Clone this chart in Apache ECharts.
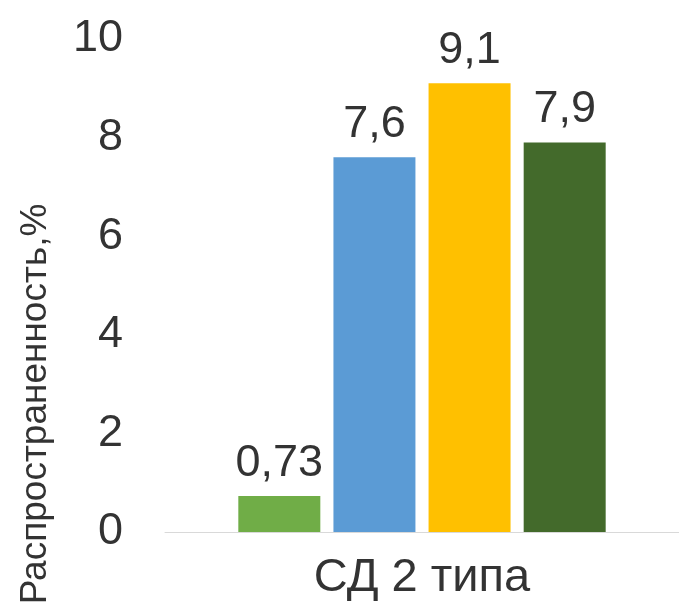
<!DOCTYPE html>
<html>
<head>
<meta charset="utf-8">
<script src="https://cdn.jsdelivr.net/npm/echarts@6/dist/echarts.min.js"></script>
<style>
html,body{margin:0;padding:0;background:#fff;}
#chart{width:679px;height:614px;}
</style>
</head>
<body>
<div id="chart"></div>
<script>
const categories = ['СД 2 типа'];
const seriesNames = ['Ряд 1', 'Ряд 2', 'Ряд 3', 'Ряд 4'];
const seriesValues = [[0.73], [7.6], [9.1], [7.9]];
const seriesColors = ['#70AD47', '#5B9BD5', '#FFC000', '#436A2B'];
const yTicks = [0, 2, 4, 6, 8, 10];
const yTitle = 'Распространенность,%';

const FONT = '"Liberation Sans", Arial, sans-serif';
const chart = echarts.init(document.getElementById('chart'), null, {renderer: 'canvas'});

const series = seriesNames.map((name, i) => ({
  name: name,
  type: 'bar',
  data: seriesValues[i],
  barWidth: 82,
  barGap: '16%',
  itemStyle: {color: seriesColors[i]},
  label: {
    show: true,
    position: 'top',
    distance: 10,
    fontSize: 45,
    fontFamily: FONT,
    color: '#333333',
    formatter: p => String(p.value).replace('.', ',')
  }
}));

chart.setOption({
  animation: false,
  backgroundColor: '#fff',
  grid: {left: 165, top: 39, width: 530, bottom: 82, containLabel: false},
  xAxis: {
    type: 'category',
    data: categories,
    axisLine: {show: true, lineStyle: {color: '#d9d9d9', width: 1}},
    axisTick: {show: false},
    axisLabel: {fontSize: 47, fontFamily: FONT, color: '#333333', margin: 23}
  },
  yAxis: {
    type: 'value',
    min: yTicks[0],
    max: yTicks[yTicks.length - 1],
    interval: yTicks[1] - yTicks[0],
    axisLine: {show: false},
    axisTick: {show: false},
    splitLine: {show: false},
    axisLabel: {fontSize: 45, fontFamily: FONT, color: '#333333', margin: 42}
  },
  graphic: [{
    type: 'text',
    x: 36,
    y: 404,
    rotation: Math.PI / 2,
    style: {
      text: yTitle,
      fontSize: 37,
      fontFamily: FONT,
      fill: '#333333',
      align: 'center',
      verticalAlign: 'middle'
    }
  }],
  series: series
});
</script>
</body>
</html>
